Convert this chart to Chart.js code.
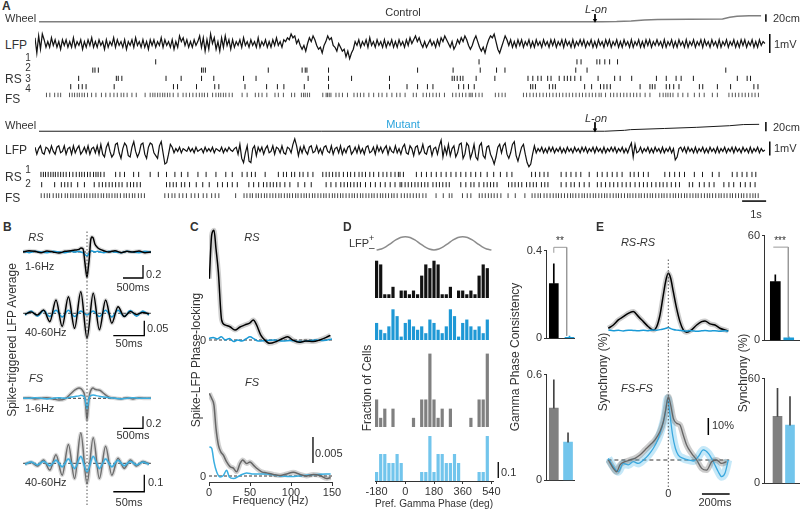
<!DOCTYPE html>
<html><head><meta charset="utf-8">
<script src="https://cdn.jsdelivr.net/npm/chart.js@4.4.1/dist/chart.umd.min.js"></script>
<style>
body{margin:0;background:#fff}
#fig{position:relative;width:800px;height:509px;overflow:hidden;font-family:"Liberation Sans",Arial,sans-serif;color:#333;background:#fff}
#fig canvas{position:absolute}
.t{position:absolute;white-space:nowrap;font-size:11px;line-height:1;z-index:2}
</style></head><body><div id="fig"></div>
<script>
// ---------------- DATA ----------------
// Panel A: wheel position (cm) vs time (s)
const wheelCtrlT = [0,23.4,24.0,24.6,25.15,25.7,27.0,28.4,28.7,29.0,29.5,30];
const wheelCtrlCm = [0,0,0.3,1.7,4.4,5.6,6.4,7.4,12,14.7,15.6,15.9];
const wheelMutT = [0,23.5,24.33,24.58,25.98,27.33,28.69,29.26,29.92];
const wheelMutCm = [0,0,2,3.5,6,8.5,12,14.5,15];
const lightOnT = 23.1;
// Panel A: LFP samples (0.1 mV units), evenly spaced over 30 s
const lfpCtrl = [3,-5,4,-3,5,
2,-2,1,-2,3,-1,2,-2,1,-3,2,-1,2,-2,1,-2,3,-2,1,-1,
2,-3,1,-2,2,-1,3,-2,1,-2,2,-1,1,-3,2,-2,1,-1,3,-2,
2,-1,1,-2,2,-3,1,-1,2,-2,3,-1,1,-2,2,-2,1,-3,2,-1,
2,-2,1,-1,3,-2,2,-1,1,-2,2,-3,1,-2,4,1,3,-1,2,-2,1,-2,2,-1,1,
4,-2,3,-4,2,-3,5,0,3,-3,1,-4,3,-2,4,-1,2,-3,
2,-2,1,-1,2,-2,3,-1,1,-2,2,-1,1,-2,3,-2,1,-1,2,-2,1,-2,2,-1,3,-1,1,-2,2,1,3,2,5,3,4,0,2,
-1,-3,-1,-4,0,3,1,4,2,-1,-3,-2,-5,-1,1,4,2,3,-1,-2,-4,0,
-2,-4,-3,-7,-4,-8,-5,-3,1,-1,
2,-2,1,-1,2,-2,3,-1,1,-2,2,-1,1,-2,2,-2,1,-1,2,-2,1,-2,2,
-1,1,-2,2,-1,3,0,2,4,1,3,0,-2,1,-2,0,2,-1,1,-2,
2,-1,3,1,4,2,0,-2,1,-3,-1,2,0,3,1,4,2,-1,-3,-1,
2,4,1,-2,-4,-2,-5,-1,2,4,3,5,1,-3,-5,-2,1,4,2,-1,
2,-2,1,-2,2,-1,2,-2,1,-1,2,-2,1,-2,2,-1,1,-2,2,-1,
1,-2,2,-1,2,-2,1,-1,2,-2,2,-1,1,-2,2,-2,1,-1,2,-1,
2,-2,1,-1,2,-2,1,-2,2,-1,1,-2,2,-1,2,-2,1,-1,2,-2,
1,-2,2,-1,1,-2,2,-2,1,-1,2,-2,1,-2,2,-1,2,-2,1,-1,
2,-1,1,-2,2,-2,1,-1,2,-2,1,-2,2,-1,1,-2,2,-2,1,-1,
2,-2,1,-1,2,-2,2,-1,1,-2,2,-1,1,-2,2,-2,1,-1,2,-2,
1,-1,2,-2,1,-2,2,-1,2,-2,1,-1,2,-2,1,-2,2,-1,1,0];
const lfpMut = [2,-3,1,3,-2,-3,2,1,-2,3,-1,-3,2,3,-2,-1,3,-3,1,2,-3,3,-2,1,3,-3,-1,2,-2,3,-3,1,2,-2,3,-3,
4,-3,-5,2,5,-1,-5,-3,4,5,-2,-6,1,5,3,-4,-5,2,6,-1,-5,-2,4,5,-3,-6,2,5,4,-2,-4,-6,3,6,-2,-10,-9,-3,4,2,-2,1,
-1,2,-2,1,0,-1,2,-1,1,-2,2,-1,0,1,-2,2,-1,1,-1,2,-2,1,0,-1,2,-2,1,-1,2,0,-1,1,
2,-3,4,-6,-9,-2,3,-8,-9,1,3,-4,2,-1,
2,-3,1,3,-2,-1,3,-3,2,1,-2,3,-2,-3,2,1,-2,4,
8,3,-4,2,
-2,3,-1,-3,2,3,-2,-1,3,-2,1,-3,2,3,-1,-2,3,-3,1,2,-2,3,-3,1,-2,2,3,-3,-1,2,-2,3,-2,1,-3,2,3,-2,-1,2,-3,3,-1,2,-2,1,3,-3,2,-1,-2,3,-2,1,
-3,2,4,-2,-3,3,1,-4,2,3,-3,-1,4,-2,-3,2,3,-4,1,2,-3,3,
7,-5,2,-3,4,-4,1,3,-5,-2,4,5,-6,-3,5,3,-6,-2,4,-5,-7,3,5,-4,-6,2,3,
-3,-6,-10,-5,2,4,-2,3,5,-3,-6,-2,4,6,-4,-8,-3,2,4,-3,-9,-12,-10,-3,3,-2,1,-1,
2,-2,1,-2,2,-1,2,-2,1,-1,2,-2,1,-2,2,-1,1,-2,2,-1,
1,-2,2,-1,2,-2,1,-1,2,-2,2,-1,1,-2,2,-2,1,-1,2,-1,
2,-2,1,-1,2,-2,1,-2,2,5,-5,4,-2,-1,2,-2,1,-1,2,-2,
1,-2,2,-1,1,-2,2,-2,1,-1,2,-2,1,-7,-5,1,2,-1,2,-2,
2,-1,1,-2,2,-2,1,-1,2,-2,1,-2,2,-1,1,-2,2,-2,1,-1,
2,-2,1,-1,2,-2,2,-1,1,-2,2,-1,1,-2,2,-2,1,-1,2,-2,
1,-1,0];
// Panel A: spike times (s)
const ctrlRS1 = [4.82,18.29,22.37,22.54,23.2,23.32,23.53,23.73,24.06];
const ctrlRS2 = [2.2,2.29,2.43,6.73,6.8,6.89,9.51,10.92,11.05,11.12,12.02,15.73,17.21,18.34,19.02,19.37,22.32,22.79,28.57];
const ctrlRS3 = [1.61,3.18,3.26,3.41,5.25,5.88,6.73,7.24,8.48,9.0,11.17,12.02,12.98,14.56,17.17,17.26,17.38,17.51,17.62,18.17,18.95,20.33,20.53,20.74,20.88,21.15,21.29,21.63,21.84,21.97,22.11,22.28,22.53,23.25,23.94,24.17,24.65,25.68,26.09,26.5,26.71,27.22,29.05,29.46,29.6];
const ctrlRS4 = [1.28,1.61,1.76,1.92,3.09,5.56,5.73,6.52,7.28,7.45,8.54,9.44,9.89,10.16,11.01,12.02,14.56,15.29,15.73,16.14,16.37,17.44,17.65,17.85,18.09,20.44,20.53,20.64,21.22,21.36,21.47,22.69,22.98,23.35,23.49,23.62,23.76,25.0,25.41,25.51,25.62,26.09,26.23,26.4,26.62,27.47,27.61,28.22,28.77,29.74,29.91];
const ctrlFS = [0.27,0.41,0.61,0.75,0.86,1.23,1.34,1.44,1.55,1.64,1.75,1.85,1.98,2.15,2.33,2.56,2.74,2.92,3.08,3.22,3.38,3.49,3.63,3.83,4.01,4.38,4.59,4.7,4.79,4.9,5.0,5.11,5.2,5.31,5.41,5.55,5.75,5.96,6.09,6.23,6.37,6.51,6.64,6.75,6.85,6.98,7.19,7.33,7.44,7.53,7.64,7.74,7.88,8.01,8.42,8.63,8.97,9.11,9.25,9.45,9.79,9.93,10.14,10.48,10.61,10.89,10.98,11.05,11.14,11.23,11.78,11.92,11.98,12.05,12.12,12.33,12.46,12.6,12.81,13.08,13.22,13.35,13.49,13.7,13.9,14.11,14.25,14.45,14.66,14.86,15.0,15.21,15.55,15.68,15.96,16.1,16.23,16.37,16.51,16.64,16.85,17.19,17.33,17.47,17.6,17.74,17.88,17.95,18.01,18.15,18.29,18.42,18.97,19.11,19.25,19.38,20.14,20.27,20.41,20.55,20.68,20.82,20.96,21.1,21.23,21.37,21.51,21.64,21.78,21.92,22.05,22.19,22.33,22.47,22.6,22.74,22.88,23.01,23.15,23.29,23.38,23.56,23.77,23.9,24.04,24.18,24.32,24.45,24.59,24.73,24.86,25.0,25.21,25.41,25.82,25.96,26.07,26.16,26.26,26.37,26.58,26.78,26.99,27.26,27.47,27.67,28.01,28.22,28.7,28.84,28.97,29.11,29.25,29.38,29.52,29.66,29.79,29.93];
const mutRS1 = [0.04,0.14,0.23,0.34,0.45,0.55,0.64,0.75,0.86,0.97,1.09,1.23,1.37,1.51,1.64,1.74,1.85,1.98,2.09,2.23,2.33,2.42,2.53,2.67,3.15,3.33,3.52,3.9,4.11,4.59,4.93,5.27,5.62,5.89,6.16,6.58,6.92,7.33,7.74,8.01,8.42,8.63,8.81,8.97,9.38,9.93,10.14,10.27,10.48,10.61,10.82,10.96,11.16,11.37,11.78,11.92,12.05,12.19,12.33,12.46,12.64,12.81,12.94,13.11,13.29,13.42,13.56,13.74,13.9,14.11,14.29,14.45,14.62,14.79,14.93,15.0,15.14,15.68,15.89,16.1,16.3,16.51,16.71,16.92,17.12,17.33,17.53,17.74,17.95,18.15,18.36,18.63,18.9,19.18,19.45,19.66,20.48,20.64,20.82,21.0,21.16,21.71,21.92,22.12,22.33,22.53,22.88,23.22,23.42,23.63,23.84,24.04,24.25,24.59,24.75,24.93,25.14,25.34,26.03,26.23,26.44,26.64,26.85,27.26,27.6,28.01,28.29,28.84,29.04,29.25,29.45,29.66,29.82];
const mutRS2 = [0.07,0.61,0.89,1.03,1.16,1.3,1.57,1.85,2.26,2.46,2.6,2.74,2.88,3.01,3.15,3.29,3.42,3.63,3.77,3.9,4.04,4.18,5.27,5.41,5.55,5.68,5.89,6.03,6.23,6.51,6.78,7.05,7.4,7.6,7.81,8.01,8.22,8.7,8.9,9.11,9.31,9.45,9.59,9.72,9.86,10.0,10.2,10.41,10.75,11.03,11.3,11.92,12.12,12.33,12.53,12.67,12.81,12.94,13.08,13.22,13.35,13.56,13.77,13.97,14.18,14.38,14.59,14.79,15.0,15.07,15.21,15.34,15.48,15.62,15.75,15.89,16.03,16.16,16.37,16.51,16.64,16.78,16.92,17.05,17.53,17.74,17.95,18.08,18.29,18.49,18.63,18.77,18.9,19.04,19.52,19.66,19.79,19.93,20.07,20.27,20.41,20.55,20.68,20.89,21.03,21.16,21.71,21.92,22.12,22.26,22.47,22.67,22.88,23.22,23.38,23.56,23.74,23.9,24.07,24.25,24.42,24.59,24.79,24.97,25.14,25.3,25.48,25.66,25.82,25.96,26.12,26.3,26.48,26.64,27.05,27.19,27.47,27.67,27.88,28.08,28.49,28.7,28.9,29.18,29.38,29.59,29.79];
const mutFS = [0.05,0.18,0.3,0.4,0.55,0.68,0.78,0.9,1.05,1.15,1.28,1.38,1.5,1.62,1.72,1.85,1.95,2.08,2.2,2.3,2.42,2.55,2.65,2.78,2.88,3.0,3.12,3.22,3.35,3.5,3.6,3.72,3.85,3.95,4.1,4.22,4.35,5.2,5.35,5.5,5.62,5.8,5.95,6.1,6.3,6.45,6.6,6.8,6.95,7.15,7.3,7.45,8.15,8.5,8.62,8.75,8.85,9.0,9.1,9.22,9.35,9.45,9.58,9.7,9.82,9.95,10.05,10.18,10.3,10.4,10.52,10.65,10.75,10.88,11.0,11.1,11.22,11.35,11.45,11.58,11.7,11.82,11.92,12.05,12.18,12.28,12.4,12.52,12.62,12.75,12.88,13.0,13.1,13.22,13.35,13.45,13.58,13.7,13.82,13.92,14.05,14.18,14.28,14.4,14.52,14.65,14.75,14.88,15.05,15.18,15.3,15.42,15.55,15.68,15.8,15.95,16.08,16.5,16.8,17.05,17.16,17.6,17.8,17.95,18.3,18.42,18.55,18.68,18.8,18.92,19.05,19.2,19.5,19.8,20.2,20.5,20.62,20.75,20.85,21.0,21.12,21.25,21.38,21.5,21.6,21.72,21.85,21.98,22.1,22.2,22.32,22.45,22.58,22.68,22.8,22.92,23.05,23.15,23.28,23.4,23.52,23.62,23.75,23.88,24.0,24.1,24.22,24.35,24.48,24.58,24.7,24.82,24.95,25.05,25.18,25.3,25.42,25.52,25.65,25.78,25.9,26.0,26.12,26.25,26.38,26.48,26.6,26.72,26.85,26.95,27.08,27.2,27.32,27.42,27.55,27.68,27.8,27.9,28.02,28.15,28.28,28.38,28.5,28.62,28.75,28.85,28.98,29.1,29.22,29.32,29.45,29.58,29.7,29.8,29.92];
// Panel B: spike-triggered LFP averages
const lagLowMs = [-1600,-1450,-1300,-1150,-1000,-850,-700,-550,-400,-300,-200,-150,-100,-60,-30,0,30,60,90,120,150,200,260,330,420,550,700,850,1000,1150,1300,1450,1600];
const staRsLowCtrl = [0,.02,.01,-.01,.015,0,-.015,.01,.02,.03,.04,.06,.05,-.12,-.28,-.385,-.25,-.08,.17,.23,.22,.12,.07,.04,.02,0,.02,-.01,.01,0,.015,-.01,0];
const staRsLowMut = [.01,-.01,.01,0,-.01,.01,0,-.01,.01,0,.01,0,-.01,-.03,-.05,-.06,-.04,-.01,.01,.02,.01,0,.01,0,-.01,.01,0,-.01,.01,0,-.01,.01,0];
const staFsLowCtrl = [0,.01,-.01,0,.01,-.01,-.03,-.01,.08,.14,.17,.16,.12,.05,-.15,-.36,-.15,.05,.12,.16,.17,.15,.14,.13,.08,.02,0,-.01,.01,-.01,.01,0,0];
const staFsLowMut = [0,0,.01,0,-.01,0,.01,0,.02,.03,.04,.05,.04,.02,-.08,-.17,-.08,.02,.04,.05,.055,.05,.04,.03,.02,.01,0,-.01,0,.01,0,0,0];
const lagGamMs = [-100,-90,-80,-70,-60,-50,-40,-30,-20,-10,0,10,20,30,40,50,60,70,80,90,100];
const staRsGamCtrl = [-.003,.004,-.006,.011,-.028,.044,-.044,.055,-.05,.072,-.083,.067,-.055,.044,-.033,.022,-.011,.006,-.004,.003,-.002];
const staRsGamMut = [-.006,.008,-.01,.009,-.011,.01,-.012,.01,-.011,.008,-.006,.008,-.011,.01,-.012,.01,-.011,.009,-.01,.008,-.006];
const staFsGamCtrl = [-.004,.006,-.016,.02,-.04,.05,-.07,.11,-.09,.18,-.12,.15,-.09,.1,-.07,.03,-.03,.02,-.016,.01,-.004];
const staFsGamMut = [-.006,.008,-.01,.012,-.015,.018,-.02,.025,-.03,.04,-.05,.04,-.03,.025,-.02,.018,-.015,.012,-.01,.008,-.006];
// Panel C: spike-LFP phase locking (x 1e-3) vs frequency (Hz)
const plRsCtrlHz = [0.4,3.3,6.1,8.5,11.4,15.4,19.5,25.6,31.7,37.8,43.9,50,54,58,63,68,74,82,90,96,102,110,118,127,135,143,148];
const plRsCtrl = [11.8,20.2,21.1,17.6,13.1,3.84,2.9,2.55,1.92,2.5,2.9,3.3,3.84,2.9,1.0,0,-0.64,-0.3,0.3,0.64,0,-0.45,-0.2,-0.3,0,0.5,0.9];
const plRsMutHz = [0,5,10,15,20,25,30,35,40,45,50,55,60,70,80,90,100,110,120,130,140,150];
const plRsMut = [0.3,0.5,0.2,0.6,0,0.3,-0.3,0,-0.2,0.2,0.6,0.2,-0.2,-0.1,0,-0.2,-0.1,-0.3,-0.2,0,-0.1,0.2];
const plFsCtrlHz = [0.4,3.3,6.1,8.5,11.4,14.2,17.5,21.5,25.6,29.7,33.7,37.8,41.1,45.9,50,54.1,58.1,64.2,70.3,78.5,86.6,94.7,102.8,111,119.1,127.2,135.4,143.5,148.4];
const plFsCtrl = [15.9,14.9,13.6,9.2,6.0,4.7,4.0,2.7,1.8,1.5,0.8,2.4,3.1,2.4,2.7,2.1,1.5,0.8,0.6,0.3,0.1,0.4,0.7,0.3,0.0,0.3,0.1,-0.5,-0.3];
const plFsMutHz = [0.4,3.3,6.1,9.3,13.4,17.5,21.5,24.8,29.7,37.8,45.9,54.1,62.2,70.3,82.5,98.8,115,131.3,148.4];
const plFsMut = [5.6,5.3,2.7,0.8,-0.2,0.1,1.1,-0.2,-0.5,0.1,0.6,0.4,0.4,0.4,0.1,-0.1,0.1,0.3,0.4];
const freqTicks = [0,50,100,150];
// Panel D: preferred gamma phase histograms (cell counts per bin, one cycle, shown twice)
const phaseBinCenters = [-180,-154.29,-128.57,-102.86,-77.14,-51.43,-25.71,0,25.71,51.43,77.14,102.86,128.57,154.29];
const cellsRsCtrl = [10,9,1,1,3,0,2,2,1,2,1,6,9,8];
const cellsRsMut = [5,3,2,4,9,7,1,5,6,4,3,4,2,6];
const cellsFsCtrl = [3,1,2,0,2,0,0,0,0,1,0,3,3,8];
const cellsFsMut = [1,3,3,2,2,3,2,0,0,0,0,1,1,5];
const lfpPhaseDeg = [-180,-150,-120,-90,-60,-30,0,30,60,90,120,150,180,210,240,270,300,330,360,390,420,450,480,510,540];
const lfpPhaseWave = [-1,-.87,-.5,0,.5,.87,1,.87,.5,0,-.5,-.87,-1,-.87,-.5,0,.5,.87,1,.87,.5,0,-.5,-.87,-1];
const phaseTicks = [-180,0,180,360,540];
// Panel D: gamma phase consistency (mean, sem)
const gpcRs = [0.25,0.005], gpcRsErr = [0.09,0.006];
const gpcFs = [0.41,0.217], gpcFsErr = [0.16,0.053];
// Panel E: synchrony (%) vs lag (ms)
const syncRsLag = [-433,-397,-361,-325,-289,-253,-217,-180,-144,-108,-84,-60,-36,-17,0,17,36,60,84,108,132,168,205,241,265,301,337,373,409,433];
const syncRsCtrl = [2.2,4.1,7.1,9.0,11.0,12.0,9.2,6.1,3.1,1.2,3.1,10,21.8,30.6,34.5,31.6,23.7,13.9,6.1,1.2,-0.2,1.2,4.1,6.1,6.5,4.8,4.1,2.2,1.2,0.6];
const syncRsMut = [1.2,0.8,1.0,0.6,1.1,0.9,0.7,1.0,0.8,1.2,1.0,1.4,1.8,2.2,2.6,2.0,1.5,1.1,0.9,0.7,0.6,0.8,0.5,0.7,0.9,0.6,0.8,0.5,0.7,0.4];
const syncFsCtrlLag = [-433,-397,-373,-349,-313,-277,-241,-205,-168,-132,-96,-60,-36,-17,0,17,36,60,84,108,132,168,205,241,277,313,349,385,421];
const syncFsCtrl = [0,-4.9,-6.9,-2.9,-1,0,1,2.9,5.9,8.8,11.8,16.7,22.5,30.4,37.3,32.4,24.5,21.6,20.6,14.7,8.8,3.9,0,-4.9,-5.9,-1,0,-2,-1];
const syncFsMutLag = [-433,-397,-361,-325,-289,-253,-217,-180,-144,-108,-72,-48,-24,-5,12,31,51,72,108,144,180,217,253,289,325,361,385,409,433];
const syncFsMut = [1,-3.9,-6.9,-2,-2.9,-1,-2,0,2.9,6.9,12.7,18.6,26.5,36.3,26.5,14.7,6.9,2.9,1,0,-0.6,2,5.9,3.9,-1,-6.9,-9.8,-7.8,0];
const syncRsBar = [33.7,1.5], syncRsBarErr = [3.8,0.5];
const syncFsBar = [38.4,33.4], syncFsBarErr = [16,16.3];

// ---------------- HELPERS ----------------
const fig = document.getElementById('fig');
const AX = '#333', BLUE = '#1a9ad6', LBLUE = '#72c5ec', GREY = '#808080';
Chart.defaults.font.family = '"Liberation Sans", Arial, sans-serif';
Chart.defaults.font.size = 11;
Chart.defaults.color = AX;
Chart.defaults.elements.point.radius = 0;
Chart.defaults.elements.line.tension = 0;
function mk(x, y, w, h, type, datasets, scales, extra) {
  const c = document.createElement('canvas');
  c.width = w; c.height = h;
  c.style.cssText = `left:${x}px;top:${y}px;width:${w}px;height:${h}px`;
  fig.appendChild(c);
  const options = Object.assign({responsive:false, animation:false, devicePixelRatio:1, events:[],
    layout:{padding:0}, plugins:{legend:{display:false}, tooltip:{enabled:false}}, scales}, extra || {});
  return new Chart(c, {type, data:{datasets: datasets.slice().reverse()}, options});
}
const sc = (min, max, o) => Object.assign({type:'linear', display:false, min, max}, o || {});
const pts = (xs, ys) => xs.map((x, i) => ({x, y: ys[i]}));
function ln(xs, ys, col, w, o) {
  return Object.assign({type:'line', data:pts(xs, ys), borderColor:col, borderWidth:w, pointRadius:0, fill:false}, o || {});
}
function seg(p, col, w, o) {
  return Object.assign({type:'line', data:p.map(q => ({x:q[0], y:q[1]})), borderColor:col, borderWidth:w, pointRadius:0, fill:false, clip:false}, o || {});
}
const smooth = {cubicInterpolationMode:'monotone'};
function ras(times, row, col, r) {
  return {type:'line', data:times.map(t => ({x:t, y:row})), showLine:false, pointStyle:'line', rotation:90,
    pointRadius:r, pointBorderWidth:1, pointBorderColor:col, borderColor:col};
}
function arrowHead(t, y) {
  return {type:'line', data:[{x:t, y}], showLine:false, pointStyle:'triangle', rotation:180, pointRadius:2.6,
    pointBackgroundColor:'#000', pointBorderColor:'#000', pointBorderWidth:0};
}
const dotted = (y0, y1) => seg([[0, y0], [0, y1]], '#555', 1, {borderDash:[1.5, 2]});
const dashed = (x0, x1) => seg([[x0, 0], [x1, 0]], '#333', 1, {borderDash:[3, 2]});
function T(txt, x, y, o) {
  o = o || {};
  const d = document.createElement('div'); d.className = 't'; d.textContent = txt;
  const s = d.style; s.left = x + 'px'; s.top = y + 'px'; s.fontSize = (o.s || 11) + 'px';
  if (o.i) s.fontStyle = 'italic'; if (o.b) s.fontWeight = 'bold'; if (o.c) s.color = o.c;
  const a = o.a || 'c'; const tx = a === 'l' ? '0' : a === 'r' ? '-100%' : '-50%';
  s.transform = `translate(${tx},-50%)` + (o.r ? ' rotate(-90deg)' : '');
  fig.appendChild(d);
}

// ---------------- PANEL A ----------------
const TMAX = 30.62; // seconds spanned by the panel-A canvases
const tOf = arr => arr.map((v, i) => i * 30 / (arr.length - 1));
// control
mk(35, 6, 745, 22, 'line', [
  ln(wheelCtrlT, wheelCtrlCm, '#7f7f7f', 1.5),
  seg([[30.2, 0], [30.2, 20]], '#000', 1.5),
  seg([[lightOnT, 20.2], [lightOnT, 5.6]], '#000', 1),
  arrowHead(lightOnT, 3.9)
], {x:sc(0, TMAX), y:sc(-6.3, 31.3)});
mk(35, 28, 745, 34, 'line', [
  ln(tOf(lfpCtrl), lfpCtrl.map(v => v * 0.1), '#141414', 1.25),
  seg([[30.2, -0.5], [30.2, 0.5]], '#000', 1.5)
], {x:sc(0, TMAX), y:sc(-0.974, 0.816)});
mk(35, 52, 745, 52, 'line',
  [ctrlRS1, ctrlRS2, ctrlRS3, ctrlRS4, ctrlFS].map((r, k) => ras(r, k, k < 4 ? '#1a1a1a' : '#555', k < 4 ? 2.6 : 2.2)),
  {x:sc(0, TMAX), y:sc(-0.585, 4.49, {reverse:true})});
// mutant
mk(35, 112, 745, 26, 'line', [
  ln(wheelMutT, wheelMutCm, '#1a1a1a', 1),
  seg([[30.2, 0], [30.2, 20]], '#000', 1.5),
  seg([[lightOnT, 19.5], [lightOnT, 4.5]], '#000', 1),
  arrowHead(lightOnT, 3)
], {x:sc(0, TMAX), y:sc(-6.0, 33.1)});
mk(35, 136, 745, 36, 'line', [
  ln(tOf(lfpMut), lfpMut.map(v => v * 0.1), '#111', 1.2),
  seg([[30.2, -0.4], [30.2, 0.6]], '#000', 1.5)
], {x:sc(0, TMAX), y:sc(-1.571, 1.0)});
mk(35, 164, 745, 46, 'line', [
  ras(mutRS1, 0, '#1a1a1a', 2.6), ras(mutRS2, 1, '#1a1a1a', 2.6), ras(mutFS, 2.08, '#444', 2.4),
  seg([[29.25, 2.615], [30.25, 2.615]], '#000', 1.5)
], {x:sc(0, TMAX), y:sc(-0.538, 3.0, {reverse:true})});

// ---------------- PANEL B ----------------
const haloG = 'rgba(150,150,150,0.35)', haloB = 'rgba(60,170,225,0.3)';
mk(23, 230, 128, 52, 'line', [
  dashed(-1600, 1600),
  ln(lagLowMs, staRsLowCtrl, haloG, 4, smooth),
  ln(lagLowMs, staRsLowMut, BLUE, 1.5, smooth),
  ln(lagLowMs, staRsLowCtrl, '#000', 1.5, smooth),
  dotted(-0.4615, 0.338),
  seg([[900, -0.4], [1400, -0.4], [1400, -0.2]], '#000', 1.3)
], {x:sc(-1600, 1600), y:sc(-0.4615, 0.338)});
mk(23, 282, 128, 60, 'line', [
  dashed(-103, 103),
  ln(lagGamMs, staRsGamCtrl, haloG, 4, smooth),
  ln(lagGamMs, staRsGamMut, BLUE, 1.5, smooth),
  ln(lagGamMs, staRsGamCtrl, '#000', 1.5, smooth),
  dotted(-0.0957, 0.1043),
  seg([[42.4, -0.0747], [92.4, -0.0747], [92.4, -0.0247]], '#000', 1.3)
], {x:sc(-103.2, 103.2), y:sc(-0.0957, 0.1043)});
mk(23, 342, 128, 90, 'line', [
  dashed(-1600, 1600),
  ln(lagLowMs, staFsLowCtrl, haloG, 4, smooth),
  ln(lagLowMs, staFsLowCtrl, '#6e6e6e', 1.5, smooth),
  ln(lagLowMs, staFsLowMut, '#3aaee0', 1.5, smooth),
  dotted(-0.5617, 0.938),
  seg([[900, -0.5], [1400, -0.5], [1400, -0.3]], '#000', 1.3)
], {x:sc(-1600, 1600), y:sc(-0.5617, 0.938)});
mk(23, 432, 128, 73, 'line', [
  dashed(-103, 103),
  ln(lagGamMs, staFsGamCtrl, haloG, 4, smooth),
  ln(lagGamMs, staFsGamMut, haloB, 3, smooth),
  ln(lagGamMs, staFsGamCtrl, '#6e6e6e', 1.5, smooth),
  ln(lagGamMs, staFsGamMut, '#3aaee0', 1.5, smooth),
  dotted(-0.245, 0.184),
  seg([[42.4, -0.167], [92.4, -0.167], [92.4, -0.067]], '#000', 1.3)
], {x:sc(-103.2, 103.2), y:sc(-0.245, 0.184)});

// ---------------- PANEL C ----------------
mk(209, 225, 123, 123, 'line', [
  dashed(0, 150),
  ln(plRsCtrlHz, plRsCtrl, 'rgba(120,120,120,0.35)', 5, smooth),
  ln(plRsMutHz, plRsMut, BLUE, 1.5, smooth),
  ln(plRsCtrlHz, plRsCtrl, '#000', 1.5, smooth)
], {x:sc(0, 150), y:sc(-1.54, 22.12)});
mk(195, 378, 151, 130, 'line', [
  dashed(0, 150),
  ln(plFsCtrlHz, plFsCtrl, 'rgba(120,120,120,0.35)', 5, smooth),
  ln(plFsMutHz, plFsMut, '#3aaee0', 1.5, smooth),
  ln(plFsCtrlHz, plFsCtrl, '#666', 1.5, smooth),
  seg([[126.8, 2.5], [126.8, 7.5]], '#000', 1.3)
], {
  x:{type:'linear', min:0, max:150, position:'bottom',
    border:{display:true, color:AX, width:1},
    grid:{display:true, drawOnChartArea:false, drawTicks:true, tickLength:4, color:AX},
    ticks:{padding:0, color:AX, maxRotation:0, autoSkip:false},
    afterBuildTicks:s => { s.ticks = freqTicks.map(v => ({value:v})); },
    title:{display:true, text:'Frequency (Hz)', color:AX, padding:{top:0, bottom:0}},
    afterFit:s => { s.height = 26; }},
  y:sc(-1.154, 18.85)
}, {layout:{padding:{left:14, right:14, top:0, bottom:0}}});

// ---------------- PANEL D ----------------
function hist(counts, col) {
  const data = [];
  [0, 360].forEach(off => phaseBinCenters.forEach((c, i) => data.push({x:c + off, y:counts[i]})));
  return {type:'bar', data, backgroundColor:col, borderWidth:0, barPercentage:0.78, categoryPercentage:1};
}
const dX = () => sc(-190, 550, {offset:false});
mk(375, 230, 118, 25, 'line', [ln(lfpPhaseDeg, lfpPhaseWave, '#8c8c8c', 1.5, smooth)], {x:dX(), y:sc(-1.76, 2.0)});
mk(375, 256, 118, 42, 'bar', [hist(cellsRsCtrl, '#111')], {x:dX(), y:sc(0, 11.26)});
mk(375, 302, 118, 38, 'bar', [hist(cellsRsMut, '#1e98d5')], {x:dX(), y:sc(0, 11.14)});
mk(375, 348, 118, 79, 'bar', [hist(cellsFsCtrl, GREY)], {x:dX(), y:sc(0, 8.61)});
mk(355, 430, 158, 81, 'bar', [hist(cellsFsMut, LBLUE),
  seg([[583, 0.33], [583, 2.11]], '#000', 1.3)], {
  x:{type:'linear', min:-190, max:550, offset:false, position:'bottom',
    border:{display:true, color:AX},
    grid:{display:true, drawOnChartArea:false, tickLength:3, color:AX, offset:false},
    ticks:{padding:1, color:AX, maxRotation:0, autoSkip:false},
    afterBuildTicks:s => { s.ticks = phaseTicks.map(v => ({value:v})); },
    title:{display:true, text:'Pref. Gamma Phase (deg)', color:AX, padding:{top:0, bottom:0}},
    afterFit:s => { s.height = 30; }},
  y:sc(0, 5.67)
}, {layout:{padding:{left:20, right:20, top:0, bottom:0}}});

function barChart(x, y, w, h, axisW, ymax, xmin, xmax, vals, errs, cols, errCols, thick, extraSets) {
  const sets = [];
  vals.forEach((v, i) => {
    sets.push({type:'bar', data:[{x:i + 1, y:v}], backgroundColor:cols[i], borderWidth:0, barThickness:thick, grouped:false});
    sets.push({type:'bar', data:[{x:i + 1, y:[v, v + errs[i]]}], backgroundColor:errCols[i], borderWidth:0, barThickness:1, grouped:false});
  });
  (extraSets || []).forEach(s => sets.push(s));
  return mk(x, y, w, h, 'bar', sets, {
    x:{type:'linear', min:xmin, max:xmax, offset:false, ticks:{display:false}, grid:{display:false},
      border:{display:true, color:AX}, afterFit:s => { s.height = 0; }},
    y:{type:'linear', min:0, max:ymax, border:{display:true, color:AX},
      grid:{display:true, drawOnChartArea:false, tickLength:2, color:AX},
      ticks:{stepSize:ymax, padding:2, color:AX}, afterFit:s => { s.width = axisW; }}
  }, {layout:{padding:{top:8, bottom:7, left:0, right:0}}});
}
barChart(524, 242, 51, 105, 22, 0.4, 0.503, 2.35, gpcRs, gpcRsErr, ['#000', BLUE], ['#000', BLUE], 9,
  [seg([[1, 0.39], [1, 0.415], [1.82, 0.415], [1.82, 0.012]], '#999', 1)]);
barChart(524, 366, 51, 123, 22, 0.6, 0.45, 2.49, gpcFs, gpcFsErr, [GREY, LBLUE], ['#444', '#444'], 9);

// ---------------- PANEL E ----------------
mk(606, 255, 126, 90, 'line', [
  ln(syncRsLag, syncRsCtrl, 'rgba(140,140,140,0.45)', 5, smooth),
  ln(syncRsLag, syncRsCtrl, '#000', 1.5, smooth),
  ln(syncRsLag, syncRsMut, BLUE, 1.5, smooth),
  dotted(-7.65, 43.5)
], {x:sc(-450, 460), y:sc(-7.65, 45.3)});
mk(606, 345, 126, 155, 'line', [
  seg([[-440, 0], [440, 0]], '#333', 1, {borderDash:[4, 3]}),
  ln(syncFsMutLag, syncFsMut, 'rgba(90,190,235,0.35)', 8, smooth),
  ln(syncFsCtrlLag, syncFsCtrl, 'rgba(110,110,110,0.35)', 6, smooth),
  ln(syncFsMutLag, syncFsMut, '#3aa8de', 1.3, smooth),
  ln(syncFsCtrlLag, syncFsCtrl, '#666', 1.3, smooth),
  dotted(-15.88, 67.65),
  seg([[289, 14.7], [289, 24.7]], '#000', 1.5),
  seg([[243, -20], [443, -20]], '#000', 1.5)
], {
  x:{type:'linear', min:-450, max:460, position:'bottom', border:{display:false},
    grid:{display:false, drawTicks:false}, ticks:{padding:0, color:AX},
    afterBuildTicks:s => { s.ticks = [{value:0}]; }, afterFit:s => { s.height = 13; }},
  y:sc(-15.88, 67.65)
});
barChart(748, 227, 52, 122, 16, 60, 0.157, 2.84, syncRsBar, syncRsBarErr, ['#000', BLUE], ['#000', BLUE], 10,
  [seg([[0.85, 53.4], [1.97, 53.4], [1.97, 1.8]], '#999', 1)]);
barChart(748, 370, 52, 122, 16, 60, -0.08, 2.8, syncFsBar, syncFsBarErr, [GREY, LBLUE], ['#444', '#444'], 9);

// ---------------- TEXT ----------------
T('A', 2, 6, {a:'l', b:1, s:12});
T('Wheel', 5, 18, {a:'l'}); T('Control', 403, 12); T('L-on', 596, 9, {i:1});
T('20cm', 773, 18, {a:'l'}); T('LFP', 5, 45, {a:'l', s:12}); T('1mV', 774, 44, {a:'l'});
['1', '2', '3', '4'].forEach((n, k) => T(n, 28, 58 + k * 10.25, {s:10}));
T('RS', 5, 79, {a:'l', s:12}); T('FS', 5, 99, {a:'l', s:12});
T('Wheel', 5, 125, {a:'l'}); T('Mutant', 403, 124, {c:'#29a3dc'}); T('L-on', 596, 118, {i:1});
T('20cm', 773, 127, {a:'l'}); T('LFP', 5, 150, {a:'l', s:12}); T('1mV', 774, 148, {a:'l'});
T('RS', 5, 177, {a:'l', s:12}); T('1', 28, 170, {s:10}); T('2', 28, 184, {s:10}); T('FS', 5, 198, {a:'l', s:12});
T('1s', 756, 214);
T('B', 3, 227, {a:'l', b:1, s:12});
T('RS', 36, 237, {i:1}); T('1-6Hz', 25, 266, {a:'l'}); T('0.2', 146, 274, {a:'l'}); T('500ms', 133, 287);
T('40-60Hz', 25, 332, {a:'l'}); T('0.05', 147, 328, {a:'l'}); T('50ms', 129, 343);
T('FS', 36, 378, {i:1}); T('1-6Hz', 25, 408, {a:'l'}); T('0.2', 146, 423, {a:'l'}); T('500ms', 133, 435);
T('40-60Hz', 25, 482, {a:'l'}); T('0.1', 148, 482, {a:'l'}); T('50ms', 129, 502);
T('Spike-triggered LFP Average', 12, 340, {r:1, s:12});
T('C', 190, 227, {a:'l', b:1, s:12});
T('RS', 252, 237, {i:1}); T('FS', 252, 382, {i:1});
T('0', 203, 340); T('0', 203, 476); T('0.005', 315, 453, {a:'l'});
T('Spike-LFP Phase-locking', 196, 360, {r:1, s:12});
T('D', 343, 227, {a:'l', b:1, s:12});
T('LFP', 349, 243, {a:'l'}); T('+', 369, 238, {a:'l', s:9}); T('–', 369, 248, {a:'l', s:10});
T('Fraction of Cells', 367, 388, {r:1, s:12}); T('0.1', 501, 472, {a:'l'});
T('Gamma Phase Consistency', 515, 357, {r:1, s:12});
T('**', 560, 241, {s:10});
T('E', 596, 227, {a:'l', b:1, s:12});
T('RS-RS', 638, 242, {i:1}); T('FS-FS', 637, 388, {i:1});
T('10%', 712, 425, {a:'l'}); T('200ms', 715, 502);
T('Synchrony (%)', 603, 372, {r:1, s:12}); T('Synchrony (%)', 743, 373, {r:1, s:12});
T('***', 780, 241, {s:10});
</script></body></html>
